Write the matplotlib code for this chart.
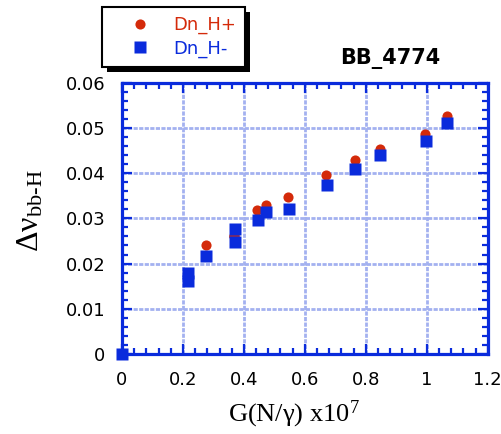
import matplotlib
matplotlib.use("Agg")
import matplotlib.pyplot as plt
from matplotlib.ticker import MultipleLocator, FuncFormatter
from matplotlib.patches import Rectangle

# Data (x in units of 1e7)
x_plus = [0.0, 0.215, 0.215, 0.276, 0.369, 0.369, 0.443, 0.471, 0.545, 0.670, 0.763, 0.847, 0.995, 1.066]
y_plus = [0.0, 0.0178, 0.0165, 0.0240, 0.0262, 0.0262, 0.0318, 0.0330, 0.0347, 0.0395, 0.0430, 0.0454, 0.0486, 0.0527]
x_minus = [0.0, 0.215, 0.215, 0.277, 0.370, 0.370, 0.445, 0.473, 0.547, 0.672, 0.765, 0.848, 0.997, 1.068]
y_minus = [0.0, 0.0179, 0.0161, 0.0217, 0.0277, 0.0247, 0.0297, 0.0314, 0.0321, 0.0373, 0.0410, 0.0440, 0.0470, 0.0511]
labels = ["Dn_H+", "Dn_H-"]
title = "BB_4774"

RED = "#d42a0a"
BLUE = "#0a2bdc"
GRID = "#a3b1f0"

plt.rcParams['mathtext.fontset'] = 'custom'
plt.rcParams['mathtext.rm'] = 'Liberation Serif'
plt.rcParams['mathtext.it'] = 'Liberation Serif:italic'

fig = plt.figure(figsize=(5.02, 4.34), dpi=100)
ax = fig.add_axes([122/502, 1-354/434, (487.7-122)/502, (354-82.7)/434])

h1, = ax.plot(x_plus, y_plus, 'o', color=RED, ms=7.3, mec='none', clip_on=False, zorder=3, label=labels[0])
h2, = ax.plot(x_minus, y_minus, 's', color=BLUE, ms=8.8, mec='none', clip_on=False, zorder=4, label=labels[1])

ax.set_xlim(0, 1.2)
ax.set_ylim(0, 0.06)
ax.xaxis.set_major_locator(MultipleLocator(0.2))
ax.xaxis.set_minor_locator(MultipleLocator(0.04))
ax.yaxis.set_major_locator(MultipleLocator(0.01))
ax.yaxis.set_minor_locator(MultipleLocator(0.002))

def fmt(v, pos):
    return "%g" % round(v, 4)
ax.xaxis.set_major_formatter(FuncFormatter(fmt))
ax.yaxis.set_major_formatter(FuncFormatter(fmt))

for sp in ax.spines.values():
    sp.set_color(BLUE)
    sp.set_linewidth(2.3)
ax.tick_params(which='both', direction='in', top=True, right=True, color=BLUE)
ax.tick_params(which='major', length=7.5, width=1.6, labelsize=13)
ax.tick_params(which='minor', length=4, width=1.6)
ax.tick_params(axis='y', which='major', pad=12)
ax.tick_params(axis='x', which='major', pad=12)
ax.grid(True, which='major', color=GRID, linestyle=(0, (1.5, 0.5)), linewidth=2.0, zorder=0)
ax.set_axisbelow(True)

ax.set_xlabel(r"G(N/γ) x10$^{7}$", fontfamily='Liberation Serif', fontsize=19)
ax.xaxis.set_label_coords(0.47, -0.165)
ax.set_ylabel("Δν$_{\\mathrm{bb}\\text{-}\\mathrm{H}}$", fontfamily='Liberation Serif', fontsize=23)
ax.yaxis.set_label_coords(-0.21, 0.53)

ax.text(0.733, 1.09, title, transform=ax.transAxes, ha='center', va='center',
        fontsize=15, fontweight='bold', color='black')

leg = fig.legend(handles=[h1, h2], loc='upper left', bbox_to_anchor=(102/502, 1-7/434),
                 frameon=True, fancybox=False, edgecolor='black', framealpha=1,
                 fontsize=13, handlelength=3.2, handletextpad=0.25, borderpad=0.5,
                 labelspacing=0.3, borderaxespad=0, labelcolor='markerfacecolor')
leg.get_frame().set_linewidth(1.5)
leg.set_zorder(10)

fig.canvas.draw()
bb = leg.get_window_extent()
shadow = Rectangle((bb.x0 + 5, bb.y0 - 5), bb.width, bb.height, transform=None,
                   facecolor='black', edgecolor='none', zorder=9)
fig.add_artist(shadow)

fig.savefig("out.png", dpi=100)
